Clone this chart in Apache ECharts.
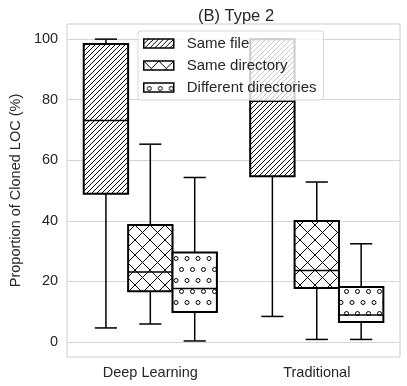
<!DOCTYPE html>
<html>
<head>
<meta charset="utf-8">
<script src="https://cdn.jsdelivr.net/npm/echarts@6/dist/echarts.min.js"></script>
<style>
  html, body { margin: 0; padding: 0; background: #fff; }
  #main { width: 407px; height: 386px; }
</style>
</head>
<body>
<div id="main"></div>
<script>
// values: [min, q1, median, q3, max]
const categories = ['Deep Learning', 'Traditional']
const sameFile = [[4.6, 48.9, 73.1, 98.4, 100], [8.4, 54.7, 79.5, 100, 100]]
const sameDir = [[5.9, 16.7, 23.1, 38.6, 65.3], [0.8, 17.8, 23.6, 39.9, 52.8]]
const diffDir = [[0.3, 9.9, 17.6, 29.5, 54.3], [0.8, 6.6, 8.9, 18.1, 32.4]]
const yTicks = [0, 20, 40, 60, 80, 100]
const seriesNames = ['Same file', 'Same directory', 'Different directories']

// hatch tiles
function makeTile(w, h, draw) {
  const c = document.createElement('canvas')
  c.width = w
  c.height = h
  const ctx = c.getContext('2d')
  ctx.fillStyle = '#fff'
  ctx.fillRect(0, 0, w, h)
  ctx.strokeStyle = '#000'
  ctx.lineWidth = 1
  draw(ctx)
  return { image: c, repeat: 'repeat' }
}

const hatchSlash = makeTile(5, 5, (ctx) => {
  ctx.beginPath()
  ctx.moveTo(-1, 6); ctx.lineTo(6, -1)
  ctx.moveTo(-1, 1); ctx.lineTo(1, -1)
  ctx.moveTo(4, 6); ctx.lineTo(6, 4)
  ctx.stroke()
})
const hatchCross = makeTile(15, 15, (ctx) => {
  ctx.beginPath()
  ctx.moveTo(-1, -1); ctx.lineTo(16, 16)
  ctx.moveTo(-1, 16); ctx.lineTo(16, -1)
  ctx.stroke()
})
const hatchDots = makeTile(11, 22, (ctx) => {
  const pts = [[5.5, 5.5], [0, 16.5], [11, 16.5]]
  pts.forEach(p => {
    ctx.beginPath()
    ctx.arc(p[0], p[1], 2, 0, Math.PI * 2)
    ctx.stroke()
  })
})
const patterns = [hatchSlash, hatchCross, hatchDots]

function boxRenderer(offset, pattern) {
  return function (params, api) {
    const cat = api.value(0)
    const band = api.size([1, 0])[0]
    const w = band * 0.8 / 3
    const cx = api.coord([cat, 0])[0] + offset * w
    const y = [1, 2, 3, 4, 5].map(d => api.coord([cat, api.value(d)])[1])
    const lineStyle = { stroke: '#000', lineWidth: 1.5 }
    return {
      type: 'group',
      children: [
        { type: 'line', shape: { x1: cx, y1: y[0], x2: cx, y2: y[1] }, style: lineStyle },
        { type: 'line', shape: { x1: cx, y1: y[3], x2: cx, y2: y[4] }, style: lineStyle },
        { type: 'line', shape: { x1: cx - w / 4, y1: y[0], x2: cx + w / 4, y2: y[0] }, style: lineStyle },
        { type: 'line', shape: { x1: cx - w / 4, y1: y[4], x2: cx + w / 4, y2: y[4] }, style: lineStyle },
        {
          type: 'rect',
          shape: { x: cx - w / 2, y: y[3], width: w, height: y[1] - y[3] },
          style: { fill: pattern, stroke: '#000', lineWidth: 2 }
        },
        { type: 'line', shape: { x1: cx - w / 2, y1: y[2], x2: cx + w / 2, y2: y[2] }, style: lineStyle }
      ]
    }
  }
}

const chart = echarts.init(document.getElementById('main'))
const groups = [sameFile, sameDir, diffDir]

const option = {
  backgroundColor: '#fff',
  animation: false,
  textStyle: { fontFamily: 'Liberation Sans, Arial, sans-serif' },
  title: {
    text: '(B) Type 2',
    left: 231,
    textAlign: 'center',
    top: 3,
    textStyle: { fontSize: 16.5, fontWeight: 'normal', color: '#262626' }
  },
  legend: {
    orient: 'vertical',
    left: 138,
    top: 31,
    padding: [5, 7, 5, 5],
    itemWidth: 30,
    itemHeight: 9,
    itemGap: 7,
    backgroundColor: 'rgba(255,255,255,0.8)',
    borderColor: '#d8d8d8',
    borderWidth: 1,
    borderRadius: 3,
    icon: 'rect',
    textStyle: { fontSize: 15, color: '#262626', lineHeight: 15, padding: [0, 0, 0, 8] },
    data: seriesNames.map((n, i) => ({
      name: n,
      itemStyle: { color: patterns[i], borderColor: '#000', borderWidth: 1.5 }
    }))
  },
  grid: { left: 59, right: 7, top: 24, bottom: 29, show: true, borderColor: '#cccccc', borderWidth: 1 },
  xAxis: {
    type: 'category',
    data: categories,
    axisLine: { show: false },
    axisTick: { show: false },
    axisLabel: { fontSize: 14.5, color: '#262626', margin: 8 },
    splitLine: { show: false }
  },
  yAxis: {
    type: 'value',
    min: -5,
    max: 105,
    name: 'Proportion of Cloned LOC (%)',
    nameLocation: 'middle',
    nameGap: 41,
    nameTextStyle: { fontSize: 14.5, color: '#262626' },
    axisLine: { show: false },
    axisTick: { show: false, customValues: yTicks },
    axisLabel: { fontSize: 14.5, color: '#262626', margin: 9, customValues: yTicks },
    splitLine: { show: true, lineStyle: { color: '#d5d5d5', width: 1 } }
  },
  series: groups.map((g, i) => ({
    name: seriesNames[i],
    type: 'custom',
    itemStyle: { color: patterns[i], borderColor: '#000' },
    renderItem: boxRenderer(i - 1, patterns[i]),
    encode: { x: 0, y: [1, 2, 3, 4, 5] },
    data: g.map((v, k) => [k].concat(v))
  }))
}

chart.setOption(option)
</script>
</body>
</html>
